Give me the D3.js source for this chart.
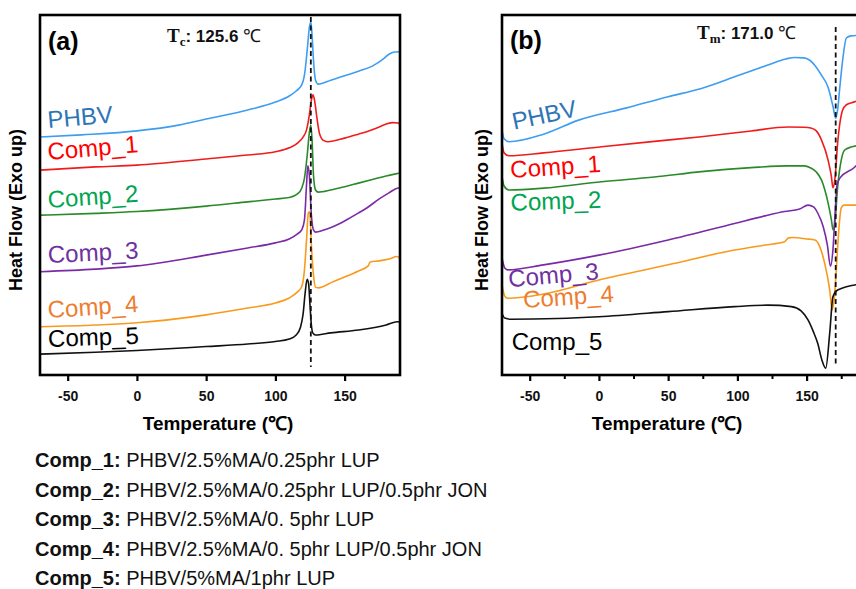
<!DOCTYPE html>
<html>
<head>
<meta charset="utf-8">
<title>DSC curves</title>
<script src="https://d3js.org/d3.v7.min.js"></script>
<style>
  body { margin: 0; background: #fff; }
  svg { display: block; }
</style>
</head>
<body>
<script>
// ---- data ----
var tempDomain = [-70, 190];
var flowDomain = [0, 10];
var xTicks = [-50, 0, 50, 100, 150];
var xMinorTicks = [-25, 25, 75, 125, 175];
var seriesNames = ["PHBV", "Comp_1", "Comp_2", "Comp_3", "Comp_4", "Comp_5"];
var tc = 125.6;
var tm = 171.0;

// (a) cooling scans, [temperature, heat flow a.u.]
var coolPHBV = [[-70,6.61],[-40,6.67],[0,6.78],[30,6.94],[50,7.11],[80,7.36],[100,7.58],[110,7.75],[115,7.89],[119,8.06],[121,8.33],[123,9.03],[124.5,9.64],[125.6,9.81],[126.5,9.44],[127.5,8.75],[129,8.19],[131,8.08],[140,8.19],[150,8.31],[160,8.44],[170,8.58],[178,8.78],[182,8.91],[186,8.97],[190,8.98]];
var coolComp1 = [[-70,5.69],[-30,5.78],[0,5.83],[50,6.0],[80,6.11],[100,6.2],[110,6.31],[116,6.44],[120,6.61],[122.5,6.81],[124.5,7.22],[126,7.64],[127.2,7.78],[128.5,7.58],[130,7.14],[132,6.69],[135,6.51],[138,6.48],[150,6.58],[160,6.69],[166,6.76],[175,6.89],[180,6.97],[185,7.01],[189,7.0],[190,6.92]];
var coolComp2 = [[-70,4.44],[-30,4.49],[0,4.54],[50,4.69],[80,4.81],[100,4.89],[110,4.93],[116,5.03],[119,5.19],[121,5.47],[123,6.11],[124.5,6.72],[125.6,6.94],[126.5,6.53],[127.5,5.56],[129,5.14],[131,5.08],[140,5.14],[150,5.23],[160,5.33],[170,5.43],[180,5.53],[186,5.58],[190,5.61]];
var coolComp3 = [[-70,2.87],[-30,2.94],[0,3.03],[50,3.33],[80,3.53],[100,3.67],[110,3.78],[116,3.92],[119,4.03],[121,4.31],[122.5,5.28],[123.4,5.81],[124.5,5.56],[126,4.44],[127.5,4.03],[129,3.97],[135,4.03],[141.5,4.12],[150,4.28],[160,4.5],[166,4.64],[175,4.89],[182,5.06],[188,5.19],[190,5.2]];
var coolComp4 = [[-70,1.34],[-30,1.39],[0,1.45],[50,1.67],[80,1.86],[100,2.0],[110,2.14],[116,2.31],[119,2.45],[121,2.92],[122.5,3.75],[123.8,4.5],[124.8,4.53],[126,3.61],[127.5,2.78],[129,2.44],[131,2.42],[141,2.58],[150,2.72],[160,2.89],[167,3.03],[168.5,3.14],[175,3.17],[182,3.22],[188,3.29],[190,3.22]];
var coolComp5 = [[-70,0.58],[-30,0.63],[0,0.68],[50,0.79],[80,0.86],[100,0.93],[110,1.0],[115,1.11],[118,1.31],[120,1.69],[121.5,2.28],[122.9,2.66],[124,2.53],[125,1.94],[126,1.39],[127,1.17],[129,1.11],[140,1.17],[160,1.25],[180,1.39],[188,1.48],[190,1.47]];

// (b) heating scans
var heatPHBV = [[-70,6.81],[-68.5,6.56],[-65,6.48],[-40,6.69],[-14.6,7.08],[20,7.42],[50,7.73],[74,7.96],[100,8.31],[122,8.61],[135,8.78],[141.5,8.82],[148,8.81],[152,8.75],[156,8.6],[160.7,8.33],[165.5,7.99],[169.1,7.45],[171,7.13],[172.5,7.4],[174,8.0],[176.3,8.83],[178.7,9.36],[182,9.42],[190,9.44]];
var heatComp1 = [[-70,6.44],[-68.5,6.17],[-65,6.09],[-40,6.17],[2,6.34],[40,6.49],[74,6.62],[110,6.78],[136.5,6.89],[148,6.88],[153,6.86],[157,6.78],[160.7,6.53],[165.5,5.97],[167.9,5.51],[169,5.2],[170.5,5.47],[172.4,6.44],[176,7.36],[178.5,7.5],[184,7.58],[190,7.64]];
var heatComp2 = [[-70,5.51],[-68.5,5.25],[-65,5.14],[-40,5.19],[2,5.37],[40,5.5],[74,5.65],[110,5.76],[136.5,5.81],[148,5.81],[153,5.75],[157,5.64],[160.7,5.42],[165.5,4.78],[167.9,4.31],[169.1,4.03],[170.5,4.25],[172.4,5.22],[175,5.97],[177.5,6.25],[182,6.33],[190,6.39]];
var heatComp3 = [[-70,3.25],[-68,2.97],[-66,2.92],[-40,3.06],[0,3.33],[50,3.75],[98,4.21],[120,4.42],[134,4.54],[145,4.61],[151,4.72],[155,4.67],[158,4.5],[162,4.12],[165,3.61],[167.2,3.02],[169,3.47],[170.5,4.45],[172,5.28],[174,5.47],[184,5.75],[190,5.97]];
var heatComp4 = [[-70,2.5],[-68,2.19],[-66,2.13],[-40,2.25],[0,2.64],[50,3.06],[98,3.47],[120,3.61],[134,3.7],[137,3.81],[140,3.82],[150,3.78],[156,3.75],[159,3.61],[163,3.11],[166.7,2.36],[168.4,1.81],[170,2.14],[171.5,2.97],[173,3.89],[175,4.64],[177,4.72],[190,4.72]];
var heatComp5 = [[-70,1.71],[-68,1.58],[-64,1.55],[-30,1.57],[0,1.62],[50,1.76],[98,1.9],[122,1.94],[139,1.9],[146,1.78],[151,1.53],[155,1.19],[158,0.88],[161,0.42],[163.8,0.19],[166.7,1.17],[169,2.17],[172.4,2.36],[190,2.53]];

var compNames = ["Comp_1:", "Comp_2:", "Comp_3:", "Comp_4:", "Comp_5:"];
var compRecipes = ["PHBV/2.5%MA/0.25phr LUP", "PHBV/2.5%MA/0.25phr LUP/0.5phr JON", "PHBV/2.5%MA/0. 5phr LUP", "PHBV/2.5%MA/0. 5phr LUP/0.5phr JON", "PHBV/5%MA/1phr LUP"];

// ---- styles ----
var lineColors = ["#3d9df2", "#f01c1c", "#2a8a2a", "#7a2aa6", "#f99a1c", "#111111"];
var textColors = ["#2e75b6", "#ff0000", "#00a550", "#7030a0", "#ed7d31", "#000000"];
var sans = "'Liberation Sans', Arial, sans-serif";
var serif = "'Liberation Serif', 'Times New Roman', serif";

var W = 856, H = 589;
var plotW = 360, plotH = 360, plotTop = 15;

var svg = d3.select("body").append("svg")
    .attr("width", W)
    .attr("height", H);

var x = d3.scaleLinear().domain(tempDomain).range([0, plotW]);
var y = d3.scaleLinear().domain(flowDomain).range([plotH, 0]);

var line = d3.line()
    .x(function(d) { return x(d[0]); })
    .y(function(d) { return y(d[1]); })
    .curve(d3.curveMonotoneX);

function drawPanel(left, series, opts) {
    var g = svg.append("g")
        .attr("transform", "translate(" + left + "," + plotTop + ")");

    g.selectAll(".curve")
        .data(series)
        .enter()
        .append("path")
        .attr("class", "curve")
        .attr("d", line)
        .attr("fill", "none")
        .attr("stroke", function(d, i) { return lineColors[i]; })
        .attr("stroke-width", 1.6);

    // dashed marker
    g.append("line")
        .attr("x1", x(opts.mark)).attr("x2", x(opts.mark))
        .attr("y1", opts.dashTop).attr("y2", plotH - 8)
        .attr("stroke", "#111")
        .attr("stroke-width", 1.8)
        .attr("stroke-dasharray", "5,3.5");

    // frame
    g.append("rect")
        .attr("width", plotW).attr("height", plotH)
        .attr("fill", "none")
        .attr("stroke", "#000")
        .attr("stroke-width", 2.6);

    var xAxis = d3.axisBottom(x)
        .tickValues(xTicks)
        .tickSize(6)
        .tickPadding(10)
        .tickFormat(d3.format("d"));

    var ax = g.append("g")
        .attr("transform", "translate(0," + plotH + ")")
        .call(xAxis);
    ax.select(".domain").remove();
    ax.selectAll("line").attr("stroke-width", 2.2);
    ax.selectAll("text")
        .style("font-family", sans)
        .style("font-weight", "bold")
        .style("font-size", "14px")
        .attr("fill", "#111")
        .text(function(d) { return d < 0 ? "-" + Math.abs(d) : d; });

    if (opts.minor) {
        var mx = g.append("g")
            .attr("transform", "translate(0," + plotH + ")")
            .call(d3.axisBottom(x).tickValues(xMinorTicks).tickSize(4).tickFormat(""));
        mx.select(".domain").remove();
        mx.selectAll("line").attr("stroke-width", 2);
    }

    // axis titles
    g.append("text")
        .attr("x", opts.xTitleX)
        .attr("y", plotH + 55)
        .attr("text-anchor", "middle")
        .style("font-family", sans)
        .style("font-weight", "bold")
        .style("font-size", "19px")
        .text("Temperature (\u2103)");

    g.append("text")
        .attr("transform", "translate(" + opts.yTitleX + "," + 195 + ") rotate(-90)")
        .attr("text-anchor", "middle")
        .style("font-family", sans)
        .style("font-weight", "bold")
        .style("font-size", "18px")
        .text("Heat Flow (Exo up)");

    // panel letter
    g.append("text")
        .attr("x", 8).attr("y", opts.letterY)
        .style("font-family", sans)
        .style("font-weight", "bold")
        .style("font-size", "25px")
        .text(opts.letter);

    // T label
    var t = g.append("text")
        .attr("x", opts.titleX).attr("y", opts.titleY)
        .style("font-weight", "bold")
        .attr("fill", "#111");
    t.append("tspan").style("font-family", serif).style("font-size", "19px").text("T");
    t.append("tspan").style("font-family", serif).style("font-size", "13px").attr("dy", 4).text(opts.sub);
    t.append("tspan").style("font-family", sans).style("font-size", "17px").attr("dy", -4).text(": " + opts.mark.toFixed(1) + " ");
    t.append("tspan").style("font-family", serif).style("font-size", "18px").style("font-weight", "normal").text("\u2103");

    // curve labels
    g.selectAll(".lbl")
        .data(opts.labels)
        .enter()
        .append("text")
        .attr("class", "lbl")
        .attr("transform", function(d) {
            return "translate(" + x(d[0]) + "," + y(d[1]) + ") rotate(" + d[2] + ")";
        })
        .style("font-family", sans)
        .style("font-size", "24px")
        .attr("fill", function(d, i) { return textColors[i]; })
        .text(function(d, i) { return seriesNames[i]; });
}

drawPanel(40, [coolPHBV, coolComp1, coolComp2, coolComp3, coolComp4, coolComp5], {
    mark: tc, sub: "c", letter: "(a)", letterY: 35, titleX: 127, titleY: 27,
    dashTop: 2, minor: false, xTitleX: 178, yTitleX: -18,
    labels: [[-64, 6.86, -5], [-64, 5.97, -5], [-64, 4.64, -4], [-64, 3.11, -3], [-64, 1.58, -4], [-64, 0.78, -2]]
});

drawPanel(502, [heatPHBV, heatComp1, heatComp2, heatComp3, heatComp4, heatComp5], {
    mark: tm, sub: "m", letter: "(b)", letterY: 34, titleX: 195, titleY: 24,
    dashTop: 12, minor: true, xTitleX: 165, yTitleX: -14,
    labels: [[-61.4, 6.81, -12], [-63.6, 5.47, -4], [-63.6, 4.56, -2], [-65, 2.44, -5], [-54.3, 1.86, -4], [-63, 0.69, 0]]
});

// composition notes
var notes = svg.append("g").attr("transform", "translate(35,467)");
notes.selectAll("text")
    .data(compNames)
    .enter()
    .append("text")
    .attr("y", function(d, i) { return i * 29.6; })
    .style("font-family", sans)
    .style("font-size", "20px")
    .attr("fill", "#111")
    .each(function(d, i) {
        var s = d3.select(this);
        s.append("tspan").style("font-weight", "bold").text(d + " ");
        s.append("tspan").text(compRecipes[i]);
    });
</script>
</body>
</html>
